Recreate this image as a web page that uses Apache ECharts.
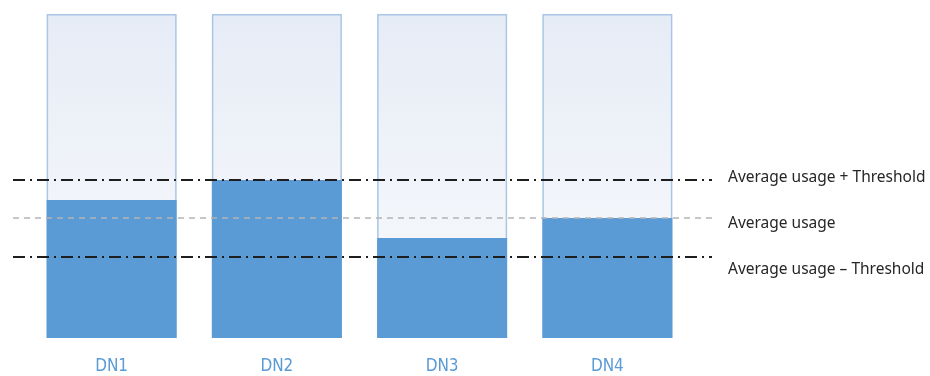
<!DOCTYPE html>
<html>
<head>
<meta charset="utf-8">
<script src="https://cdn.jsdelivr.net/npm/echarts@6/dist/echarts.min.js"></script>
<style>
  html, body { margin: 0; padding: 0; background: #fff; }
  #chart { width: 930px; height: 376px; }
</style>
</head>
<body>
<div id="chart"></div>
<script>
// data nodes and their used share of capacity (0-100)
const nodes = ['DN1', 'DN2', 'DN3', 'DN4']
const capacity = [100, 100, 100, 100]
const usage = [42.6, 48.8, 30.9, 37.0]

// reference lines
const avgUsage = 37.0
const threshold = 11.9
const lineNames = ['Average usage + Threshold', 'Average usage', 'Average usage \u2013 Threshold']

const darkDash = { color: '#1e1e1e', width: 2, type: [12, 5, 2, 5] }
const greyDash = { color: '#b4b4b4', width: 1.5, type: [6, 5] }
const noteFont = '15.5px "Noto Sans", sans-serif'

const option = {
  animation: false,
  grid: [
    { left: 29, right: 240, top: 14, bottom: 38 },   // containers
    { left: 13, right: 218, top: 14, bottom: 38 }    // reference lines
  ],
  xAxis: [
    {
      type: 'category',
      gridIndex: 0,
      data: nodes,
      axisLine: { show: false },
      axisTick: { show: false },
      axisLabel: {
        margin: 20,
        color: '#5b9bd5',
        fontSize: 17,
        fontFamily: '"Liberation Sans Narrow", "DejaVu Sans Condensed", "Noto Sans", sans-serif'
      }
    },
    { type: 'category', gridIndex: 1, data: ['a', 'b'], show: false, boundaryGap: false }
  ],
  yAxis: [
    { type: 'value', gridIndex: 0, min: 0, max: 100, show: false },
    { type: 'value', gridIndex: 1, min: 0, max: 100, show: false }
  ],
  series: [
    {
      name: 'capacity',
      type: 'bar',
      xAxisIndex: 0,
      yAxisIndex: 0,
      barWidth: 130,
      barGap: '-100%',
      data: capacity,
      itemStyle: {
        color: new echarts.graphic.LinearGradient(0, 0, 0, 1, [
          { offset: 0, color: '#e6ecf6' },
          { offset: 0.6, color: '#f2f5fa' },
          { offset: 1, color: '#f6f8fb' }
        ]),
        borderColor: '#aac6e6',
        borderWidth: 1.5
      },
      silent: true
    },
    {
      name: 'usage',
      type: 'bar',
      xAxisIndex: 0,
      yAxisIndex: 0,
      barWidth: 130,
      barGap: '-100%',
      data: usage,
      itemStyle: { color: '#5b9bd5' },
      silent: true
    },
    {
      name: 'lines',
      type: 'line',
      xAxisIndex: 1,
      yAxisIndex: 1,
      data: [],
      symbol: 'none',
      markLine: {
        silent: true,
        symbol: 'none',
        label: { show: false },
        data: [
          { yAxis: avgUsage + threshold, lineStyle: darkDash },
          { yAxis: avgUsage, lineStyle: greyDash },
          { yAxis: avgUsage - threshold, lineStyle: darkDash }
        ]
      }
    }
  ],
  graphic: [
    { type: 'text', left: 728, top: 170, style: { text: lineNames[0], fill: '#262626', font: noteFont } },
    { type: 'text', left: 728, top: 216, style: { text: lineNames[1], fill: '#262626', font: noteFont } },
    { type: 'text', left: 728, top: 262, style: { text: lineNames[2], fill: '#262626', font: noteFont } }
  ]
}

const myChart = echarts.init(document.getElementById('chart'))
myChart.setOption(option)
</script>
</body>
</html>
